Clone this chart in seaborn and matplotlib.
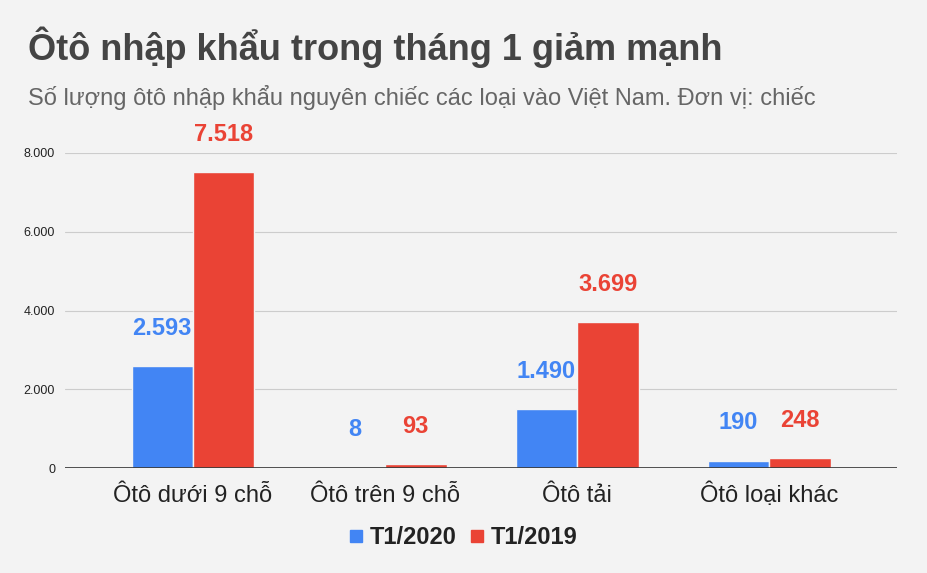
"""Ôtô nhập khẩu trong tháng 1 - grouped bar chart."""

import pandas as pd
import seaborn as sns
import matplotlib.pyplot as plt
from matplotlib.lines import Line2D

#########################################################################################

categories = ['Ôtô dưới 9 chỗ', 'Ôtô trên 9 chỗ', 'Ôtô tải', 'Ôtô loại khác']
series = ['T1/2020', 'T1/2019']
vals_2020 = [2593, 8, 1490, 190]
vals_2019 = [7518, 93, 3699, 248]
y_ticks = [0, 2000, 4000, 6000, 8000]
y_tick_labels = ['0', '2.000', '4.000', '6.000', '8.000']

colors = {'T1/2020': '#4285F4', 'T1/2019': '#EA4335'}
bg = '#F3F3F3'

#########################################################################################

df = pd.DataFrame({
    'cat': categories * 2,
    'series': [series[0]] * 4 + [series[1]] * 4,
    'value': vals_2020 + vals_2019,
})

sns.set_theme(style='white')
plt.rcParams['font.family'] = ['Liberation Sans', 'DejaVu Sans']

f = plt.figure(figsize=(9.27, 5.73), dpi=100, facecolor=bg)
ax = f.add_axes([0.070, 0.183, 0.898, 0.550], facecolor=bg)

sns.barplot(data=df, x='cat', y='value', hue='series', palette=colors,
            width=0.64, gap=0.0, saturation=1, edgecolor=bg, linewidth=1,
            legend=False, ax=ax)

ax.set_xlim(-0.667, 3.667)
ax.set_ylim(0, 8000)
ax.set_yticks(y_ticks)
ax.set_yticklabels(y_tick_labels, fontsize=9, color='#222222')
ax.tick_params(axis='y', length=0, pad=7)
ax.tick_params(axis='x', length=0, pad=24.5, labelsize=17, labelcolor='#222222')
for t in ax.get_xticklabels():
    t.set_va('baseline')
ax.set_xlabel('')
ax.set_ylabel('')
ax.grid(axis='y', color='#CCCCCC', linewidth=0.8)
ax.set_axisbelow(True)
for s in ['top', 'right', 'left', 'bottom']:
    ax.spines[s].set_visible(False)
ax.axhline(0, color='#333333', linewidth=1.2, zorder=3)

# Data labels
for cont, name in zip(ax.containers, series):
    labels = [f'{int(v):,}'.replace(',', '.') for v in cont.datavalues]
    ax.bar_label(cont, labels=labels, padding=19, fontsize=17, fontweight='bold',
                 color=colors[name], clip_on=False)

# Titles
f.text(0.030, 0.917, 'Ôtô nhập khẩu trong tháng 1 giảm mạnh', fontsize=26,
       fontweight='bold', color='#444444', va='center')
f.text(0.030, 0.830, 'Số lượng ôtô nhập khẩu nguyên chiếc các loại vào Việt Nam. Đơn vị: chiếc',
       fontsize=17, color='#666666', va='center')

# Legend
handles = [Line2D([], [], marker='s', linestyle='', markersize=8,
                  markerfacecolor=colors[s], markeredgecolor=colors[s]) for s in series]
leg = f.legend(handles, series, loc='center', bbox_to_anchor=(0.5, 0.062), ncol=2,
               frameon=False, handlelength=0.55, handletextpad=0.32, columnspacing=0.6,
               prop={'size': 17, 'weight': 'bold'})
for t in leg.get_texts():
    t.set_color('#222222')

f.savefig('out.png', dpi=100, facecolor=bg)
